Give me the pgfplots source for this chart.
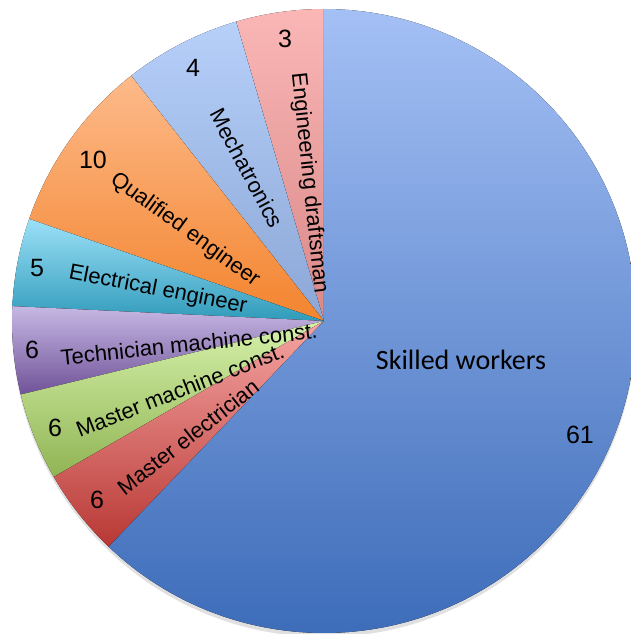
\documentclass[border=0pt]{standalone}
\usepackage{pgfplots}
\pgfplotsset{compat=1.18}
\usepackage{fontspec}
\setmainfont{Liberation Sans}
\newfontfamily\calibri{Carlito}

% slice colours, light (top) and dark (bottom) of each gradient
\definecolor{drA}{RGB}{250,183,182}\definecolor{drB}{RGB}{216,136,135}
\definecolor{meA}{RGB}{182,208,250}\definecolor{meB}{RGB}{140,166,214}
\definecolor{quA}{RGB}{253,186,138}\definecolor{quB}{RGB}{243,132,46}
\definecolor{elA}{RGB}{156,224,248}\definecolor{elB}{RGB}{48,155,186}
\definecolor{teA}{RGB}{198,184,228}\definecolor{teB}{RGB}{112,82,152}
\definecolor{mmA}{RGB}{214,241,170}\definecolor{mmB}{RGB}{144,180,84}
\definecolor{mrA}{RGB}{245,165,163}\definecolor{mrB}{RGB}{184,56,52}
\definecolor{skA}{RGB}{164,192,245}\definecolor{skB}{RGB}{56,104,182}

\newcommand\lbl{\fontsize{11}{13}\selectfont}
\newcommand\num{\fontsize{12.5}{14}\selectfont}

\begin{document}
\begin{tikzpicture}
\begin{axis}[
    x=0.5pt, y=0.5pt,
    xmin=-324, xmax=307, ymin=-313, ymax=321,
    axis line style={draw=none},
    ticks=none,
    clip=true,
]
% soft shadow under the pie
\fill[black, opacity=0.12] (axis cs:0,-4) circle[radius=156pt];

% slices, counter-clockwise from 12 o'clock (value/light/dark)
\def\acc{90}
\foreach \v/\ca/\cb in {3/drA/drB, 4/meA/meB, 6/quA/quB, 3/elA/elB,
                        3/teA/teB, 3/mmA/mmB, 3/mrA/mrB, 41/skA/skB} {
  \pgfmathsetmacro{\a}{\acc}
  \pgfmathsetmacro{\b}{\acc+360*\v/66}
  \edef\wedge{\noexpand\fill[top color=\ca, bottom color=\cb]
    (axis cs:0,0) -- (axis cs:{312*cos(\a)},{312*sin(\a)})
    arc[start angle=\a, end angle=\b, radius=156pt] -- cycle;}
  \wedge
  \global\let\acc\b
}

% category labels, radial
\node[font=\lbl, rotate=-84] at (axis cs:-15,138) {Engineering draftsman};
\node[font=\lbl, rotate=-62] at (axis cs:-77,153) {Mechatronics};
\node[font=\lbl, rotate=-36] at (axis cs:-139,91) {Qualified engineer};
\node[font=\lbl, rotate=-11] at (axis cs:-166,31) {Electrical engineer};
\node[font=\lbl, rotate=6] at (axis cs:-135,-23) {Technician machine const.};
\node[font=\lbl, rotate=21.5] at (axis cs:-144,-69) {Master machine const.};
\node[font=\lbl, rotate=38] at (axis cs:-136,-116) {Master electrician};
\node[font={\calibri\fontsize{14}{16}\selectfont}] at (axis cs:137,-39) {Skilled workers};

% value labels
\node[font=\num] at (axis cs:-39,282) {3};
\node[font=\num] at (axis cs:-131,253) {4};
\node[font=\num] at (axis cs:-231,161) {10};
\node[font=\num] at (axis cs:-287,53) {5};
\node[font=\num] at (axis cs:-292,-29) {6};
\node[font=\num] at (axis cs:-269,-107) {6};
\node[font=\num] at (axis cs:-227,-179) {6};
\node[font=\num] at (axis cs:256,-114) {61};
\end{axis}
\end{tikzpicture}
\end{document}
